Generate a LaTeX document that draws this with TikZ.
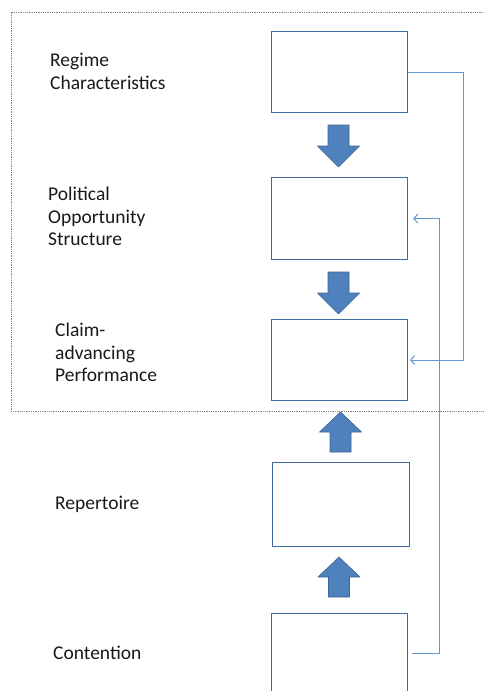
\documentclass[tikz,border=0pt]{standalone}
\usepackage{fontspec}
\setmainfont{Carlito}
\usetikzlibrary{arrows.meta,calc}
\definecolor{boxline}{RGB}{65,105,160}
\definecolor{blockfill}{RGB}{79,129,189}
\definecolor{blockline}{RGB}{60,100,150}
\definecolor{connline}{RGB}{100,150,212}
\definecolor{framegray}{RGB}{130,130,130}
\tikzset{
  stagebox/.style={draw=boxline, line width=1.1pt, fill=white, minimum width=136pt, inner sep=0pt, anchor=north west},
  lbl/.style={font=\fontsize{19.5}{22.5}\selectfont, align=left, inner sep=0pt, anchor=north west, text=black!90},
  blockarrow/.style={fill=blockfill, draw=blockline, line width=0.6pt, line join=round},
  conn/.style={draw=connline, line width=1pt, -{Straight Barb[length=4pt,width=9pt,line width=1pt]}},
  downarr/.pic={\path[blockarrow] (-10.5,0) -- (10.5,0) -- (10.5,21) -- (21,21) -- (0,42) -- (-21,21) -- (-10.5,21) -- cycle;},
  uparr/.pic={\path[blockarrow] (-10.5,0) -- (10.5,0) -- (10.5,-20) -- (21,-20) -- (0,-40) -- (-21,-20) -- (-10.5,-20) -- cycle;}
}
\begin{document}
\begin{tikzpicture}[x=1pt,y=-1pt]
\useasboundingbox (0,0) rectangle (483,691);
% dotted frame
\draw[framegray, densely dotted, line width=0.8pt] (483,12) -- (11,12) -- (11,411) -- (483,411);
% boxes
\node[stagebox, minimum height=81pt] (b1) at (271,31) {};
\node[stagebox, minimum height=82pt] (b2) at (271,177) {};
\node[stagebox, minimum height=81pt] (b3) at (271,319) {};
\node[stagebox, minimum height=84pt, minimum width=137pt] (b4) at (272,462) {};
\node[stagebox, minimum height=80pt] (b5) at (271,613) {};
% labels
\node[lbl] (l1) at (50,53) {Regime\\Characteristics};
\node[lbl] (l2) at (48,187) {Political\\Opportunity\\Structure};
\node[lbl] (l3) at (55,323) {Claim-\\advancing\\Performance};
\node[lbl] (l4) at (55,496) {Repertoire};
\node[lbl] (l5) at (53,646) {Contention};
% block arrows
\pic at (338.5,125) {downarr};
\pic at (338.5,272) {downarr};
\pic at (340.5,452) {uparr};
\pic at (339,597) {uparr};
% feedback connectors
\coordinate (c1a) at ($(b1.east)+(55,0)$);
\draw[conn] (b1.east) -- (c1a) -- (c1a |- b3.east) -- ($(b3.east)+(2,0)$);
\coordinate (c2a) at ($(b5.east)+(31,0)$);
\draw[conn] ($(b5.east)+(4,0)$) -- (c2a) -- (c2a |- b2.east) -- ($(b2.east)+(5,0)$);
\end{tikzpicture}
\end{document}
